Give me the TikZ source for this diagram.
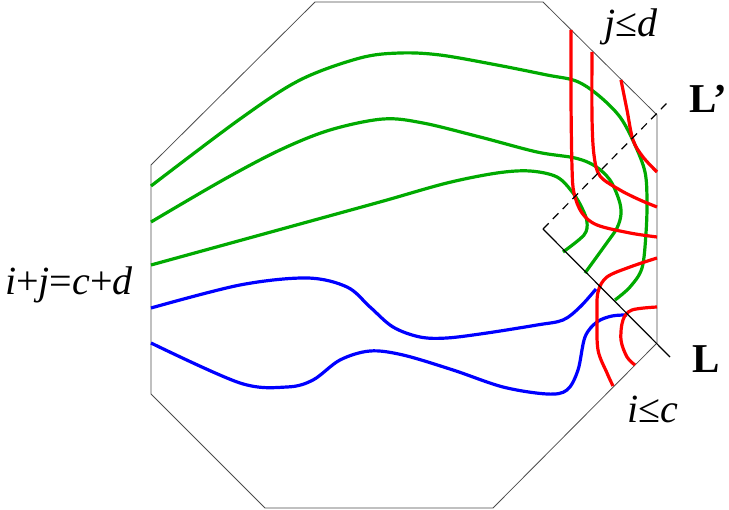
\documentclass[tikz,border=0pt]{standalone}
\usepackage{fontspec}
\setmainfont{Liberation Serif}
\begin{document}
\begin{tikzpicture}[x=1pt,y=-1pt,
  edge/.style={draw=black!70,line width=0.8pt},
  gcurve/.style={draw={rgb,255:red,0;green,170;blue,0},line width=3.2pt},
  bcurve/.style={draw={rgb,255:red,0;green,0;blue,255},line width=3.2pt},
  rcurve/.style={draw={rgb,255:red,255;green,0;blue,0},line width=3.2pt},
  lab/.style={font=\fontsize{40}{44}\selectfont,anchor=base,inner sep=0pt},
  bl/.style={font=\fontsize{41}{46}\selectfont\bfseries,inner sep=0pt}]
\useasboundingbox (0,0) rectangle (729,510);
% octagon
\coordinate (o1) at (151,165);
\coordinate (o2) at (315,2);
\coordinate (o3) at (543,2);
\coordinate (o4) at (657,115);
\coordinate (o5) at (657,343);
\coordinate (o6) at (493,508);
\coordinate (o7) at (265,508);
\coordinate (o8) at (151,394);
\draw[edge] (o1)--(o2)--(o3)--(o4)--(o5)--(o6)--(o7)--(o8)--cycle;
% green curves
\draw[gcurve] plot[smooth,tension=0.55] coordinates {(151,186) (240,119) (300,80) (360,58) (400,53) (440,55) (497,65) (547,75) (576,81) (598,95) (620,117) (635,145) (645,172) (647,200) (646,233) (642,268) (630,287) (615,300)};
\draw[gcurve] plot[smooth,tension=0.55] coordinates {(151,222) (223,180) (280,150) (330,130) (383,119) (423,123) (480,137) (537,152) (575,158) (595,166) (610,180) (619,200) (621,214) (617,228) (606,244) (585,273)};
\draw[gcurve] plot[smooth,tension=0.55] coordinates {(151,265) (340,213) (387,200) (447,183) (497,173) (530,171) (557,177) (573,193) (582,208) (587,222) (584,235) (563,252)};
% blue curves
\draw[bcurve] plot[smooth,tension=0.55] coordinates {(151,308) (240,285) (307,278) (347,287) (370,307) (393,327) (420,337) (447,338) (487,333) (537,325) (563,320) (580,307) (596,289)};
\draw[bcurve] plot[smooth,tension=0.55] coordinates {(151,343) (240,383) (287,387) (313,380) (340,360) (370,351) (403,355) (453,370) (503,387) (547,394) (567,390) (578,370) (585,337) (597,322) (612,316) (627,315)};
% red curves
\draw[rcurve] plot[smooth,tension=0.55] coordinates {(571,30) (571,100) (572,167) (574,193) (582,213) (597,225) (630,233) (657,237)};
\draw[rcurve] plot[smooth,tension=0.55] coordinates {(592,52) (592,117) (594,155) (600,176) (620,190) (640,200) (657,207)};
\draw[rcurve] plot[smooth,tension=0.55] coordinates {(621,80) (627,110) (633,140) (643,157) (657,172)};
\draw[rcurve] plot[smooth,tension=0.55] coordinates {(657,258) (630,267) (607,277) (598,292) (597,317) (598,350) (607,373) (613,386)};
\draw[rcurve] plot[smooth,tension=0.55] coordinates {(657,307) (632,310) (623,320) (621,340) (627,357) (635,365)};
% L lines
\coordinate (c) at (543,229);
\coordinate (lend) at (670,357);
\coordinate (lpend) at (668,102);
\draw[line width=1.2pt] (c) -- (lend);
\draw[line width=1.2pt,dash pattern=on 8pt off 6pt] (c) -- (lpend);
% labels
\node[lab] (sum) at (69,295) {\textit{i}+\textit{j}=\textit{c}+\textit{d}};
\node[lab] (jd) at (631,37) {\textit{j}≤\textit{d}};
\node[lab] (ic) at (653,423) {\textit{i}≤\textit{c}};
\node[bl,anchor=base east] (Lp) at (727,113) {L’};
\node[bl,anchor=base west] (L) at (692,373) {L};
\end{tikzpicture}
\end{document}
